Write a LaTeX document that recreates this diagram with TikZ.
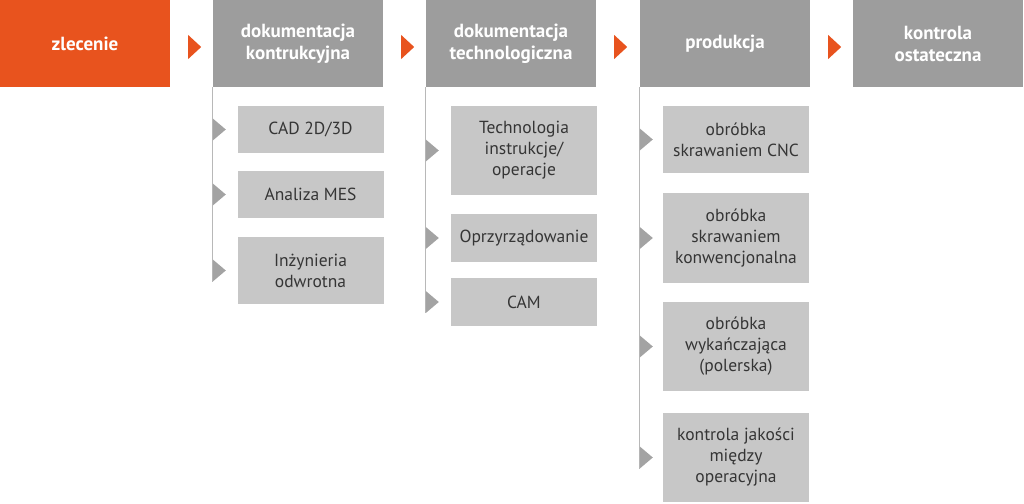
\documentclass[tikz,border=0pt]{standalone}
\usepackage{fontspec}
\setmainfont{PT Sans}
\usetikzlibrary{calc}
\definecolor{orng}{HTML}{E8531E}
\definecolor{hgray}{HTML}{9D9D9D}
\definecolor{sgray}{HTML}{C7C7C7}
\definecolor{tgray}{HTML}{A3A3A3}
\definecolor{lgray}{HTML}{B8B8B8}
\definecolor{txt}{HTML}{353535}
\newcommand\subarrow[2]{\fill[tgray] ($(#1.south west |- #2.center)+(0,-11)$) -- ++(13,11) -- ++(-13,11) -- cycle;}
\newcommand\mainarrow[1]{\fill[orng] ($(#1.east)+(18,-8.5)$) -- ++(13,12) -- ++(-13,12) -- cycle;}
\begin{document}
\begin{tikzpicture}[x=1pt,y=-1pt,
  head/.style={fill=hgray,text=white,minimum width=170pt,minimum height=87pt,inner sep=0pt,align=center,font=\fontsize{19}{22}\selectfont\bfseries},
  sub/.style={fill=sgray,text=txt,minimum width=146pt,inner sep=0pt,align=center,font=\fontsize{17.5}{21}\selectfont},
  vline/.style={draw=lgray,line width=1.3pt}]
\useasboundingbox (0,0) rectangle (1024,503);
\node[head,fill=orng] (zl) at (85,43.5) {zlecenie};
\node[head] (h1) at (298,43.5) {dokumentacja\\kontrukcyjna};
\node[head] (h2) at (511,43.5) {dokumentacja\\technologiczna};
\node[head] (h3) at (725,43.5) {produkcja};
\node[head] (h4) at (938,43.5) {kontrola\\ostateczna};
% column 1
\node[sub,minimum height=47pt] (c1) at (310.5,129.5) {CAD 2D/3D};
\node[sub,minimum height=47pt] (c2) at (310.5,194.5) {Analiza MES};
\node[sub,minimum height=67pt] (c3) at (310.5,270.5) {Inżynieria\\odwrotna};
% column 2
\node[sub,minimum height=89pt] (t1) at (524,150.5) {Technologia\\instrukcje/\\operacje};
\node[sub,minimum height=48pt] (t2) at (524,238) {Oprzyrządowanie};
\node[sub,minimum height=48pt] (t3) at (524,302) {CAM};
% column 3
\node[sub,minimum height=67pt] (p1) at (736,139.5) {obróbka\\skrawaniem CNC};
\node[sub,minimum height=90pt] (p2) at (736,238) {obróbka\\skrawaniem\\konwencjonalna};
\node[sub,minimum height=89pt] (p3) at (736,346.5) {obróbka\\wykańczająca\\(polerska)};
\node[sub,minimum height=89pt] (p4) at (736,457.5) {kontrola jakości\\między\\operacyjna};
% vertical lines
\coordinate (e1) at ($(h1.south west |- c3.center)+(0,11)$);
\coordinate (e2) at ($(h2.south west |- t3.center)+(0,11)$);
\coordinate (e3) at ($(h3.south west |- p4.center)+(0,11)$);
\draw[vline] (h1.south west) -- (e1);
\draw[vline] (h2.south west) -- (e2);
\draw[vline] (h3.south west) -- (e3);
% sub arrows
\subarrow{h1}{c1}\subarrow{h1}{c2}\subarrow{h1}{c3}
\subarrow{h2}{t1}\subarrow{h2}{t2}\subarrow{h2}{t3}
\subarrow{h3}{p1}\subarrow{h3}{p2}\subarrow{h3}{p3}\subarrow{h3}{p4}
% main arrows
\mainarrow{zl}\mainarrow{h1}\mainarrow{h2}\mainarrow{h3}
\end{tikzpicture}
\end{document}
